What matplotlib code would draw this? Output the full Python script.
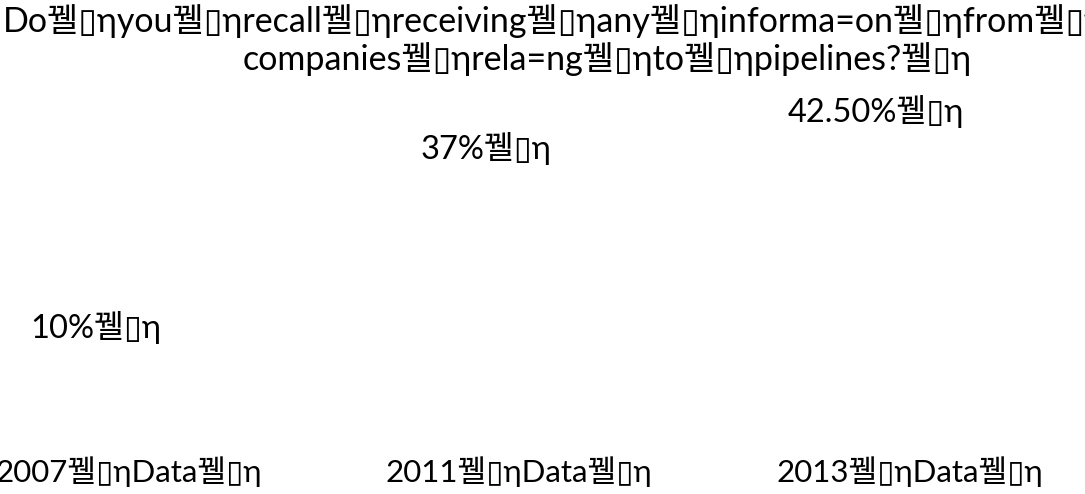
import matplotlib.pyplot as plt

plt.rcParams['font.family'] = ['Lato', 'DejaVu Sans', 'Noto Sans CJK KR']

# the garbled separator that the source chart shows between words
junk = '\uaff8\u25af\u03b7'

years = ['2007', '2011', '2013']
values = [10, 37, 42.5]
value_labels = ['10%', '37%', '42.50%']
title_words = ['Do', 'you', 'recall', 'receiving', 'any', 'informa=on', 'from', '']
title_words2 = ['companies', 'rela=ng', 'to', 'pipelines?', '']

fs = 23.5
fig = plt.figure(figsize=(10.85, 4.94), dpi=100)
ax = fig.add_axes([0.0, 0.203, 1.0, 0.672])

xs = [0, 1, 2]
ax.bar(xs, values, width=0.6, color='white')
for x, v, lab in zip(xs, values, value_labels):
    ax.annotate(lab + junk, (x, v), xytext=(-24, 0), textcoords='offset points',
                ha='center', va='center', fontsize=fs)

ax.set_xticks(xs)
ax.set_xticklabels([y + junk + 'Data' + junk for y in years], fontsize=22.5)
ax.tick_params(length=0, pad=45)
ax.set_yticks([])
ax.set_xlim(-0.33, 2.45)
ax.set_ylim(0, 50)
for s in ax.spines.values():
    s.set_visible(False)

fig.text(0.003, 0.935, junk.join(title_words), ha='left', va='baseline', fontsize=24.5)
fig.text(0.224, 0.858, junk.join(title_words2), ha='left', va='baseline', fontsize=24.5)

fig.savefig('out.png')
